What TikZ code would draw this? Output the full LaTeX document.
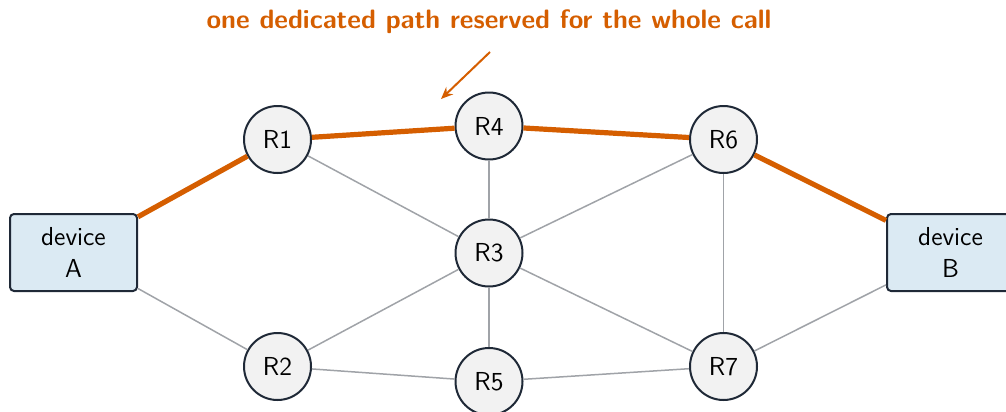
\documentclass[tikz,border=0pt]{standalone}
\usetikzlibrary{arrows.meta}
\definecolor{pathorange}{RGB}{213,94,0}
\definecolor{nodeedge}{RGB}{31,41,55}
\definecolor{nodefill}{RGB}{242,242,242}
\definecolor{boxfill}{RGB}{219,234,243}
\definecolor{linkgray}{RGB}{160,163,168}
\begin{document}
\begin{tikzpicture}[x=0.5pt,y=-0.5pt,
  font=\sffamily\fontsize{13}{16}\selectfont,
  router/.style={circle, draw=nodeedge, fill=nodefill, line width=1pt, minimum size=33.5pt, inner sep=0pt},
  device/.style={rectangle, rounded corners=2pt, draw=nodeedge, fill=boxfill, line width=1pt, minimum width=63.5pt, minimum height=38.5pt, align=center, inner sep=0pt},
  link/.style={draw=linkgray, line width=0.75pt},
  reserved/.style={draw=pathorange, line width=2.6pt},
  note/.style={text=pathorange, font=\sffamily\bfseries\fontsize{13.3}{15}\selectfont}]
\useasboundingbox (0,0) rectangle (1006,412);
\clip (0,0) rectangle (1006,412);
\node[device] (A) at (73.5,252.5) {device\\A};
\node[device] (B) at (950.5,252.5) {device\\B};
\node[router] (R1) at (277.5,139.5) {R1};
\node[router] (R4) at (489,126) {R4};
\node[router] (R6) at (723.5,139.5) {R6};
\node[router] (R3) at (489,253) {R3};
\node[router] (R2) at (277.5,366.5) {R2};
\node[router] (R5) at (489,381.5) {R5};
\node[router] (R7) at (723.5,366.5) {R7};
\node[note] (title) at (489,22) {one dedicated path reserved for the whole call};
\coordinate (arrStart) at (490,52);
\coordinate (arrEnd) at (441,99);
\draw[link] (R1) -- (R3);
\draw[link] (R4) -- (R3);
\draw[link] (R6) -- (R3);
\draw[link] (R6) -- (R7);
\draw[link] (R3) -- (R2);
\draw[link] (R3) -- (R5);
\draw[link] (R3) -- (R7);
\draw[link] (R2) -- (R5);
\draw[link] (R5) -- (R7);
\draw[link] (A) -- (R2);
\draw[link] (R7) -- (B);
\draw[reserved] (A) -- (R1);
\draw[reserved] (R1) -- (R4);
\draw[reserved] (R4) -- (R6);
\draw[reserved] (R6) -- (B);
\draw[draw=pathorange, line width=1pt, -{Stealth[length=6pt,width=5pt]}] (arrStart) -- (arrEnd);
\end{tikzpicture}
\end{document}
